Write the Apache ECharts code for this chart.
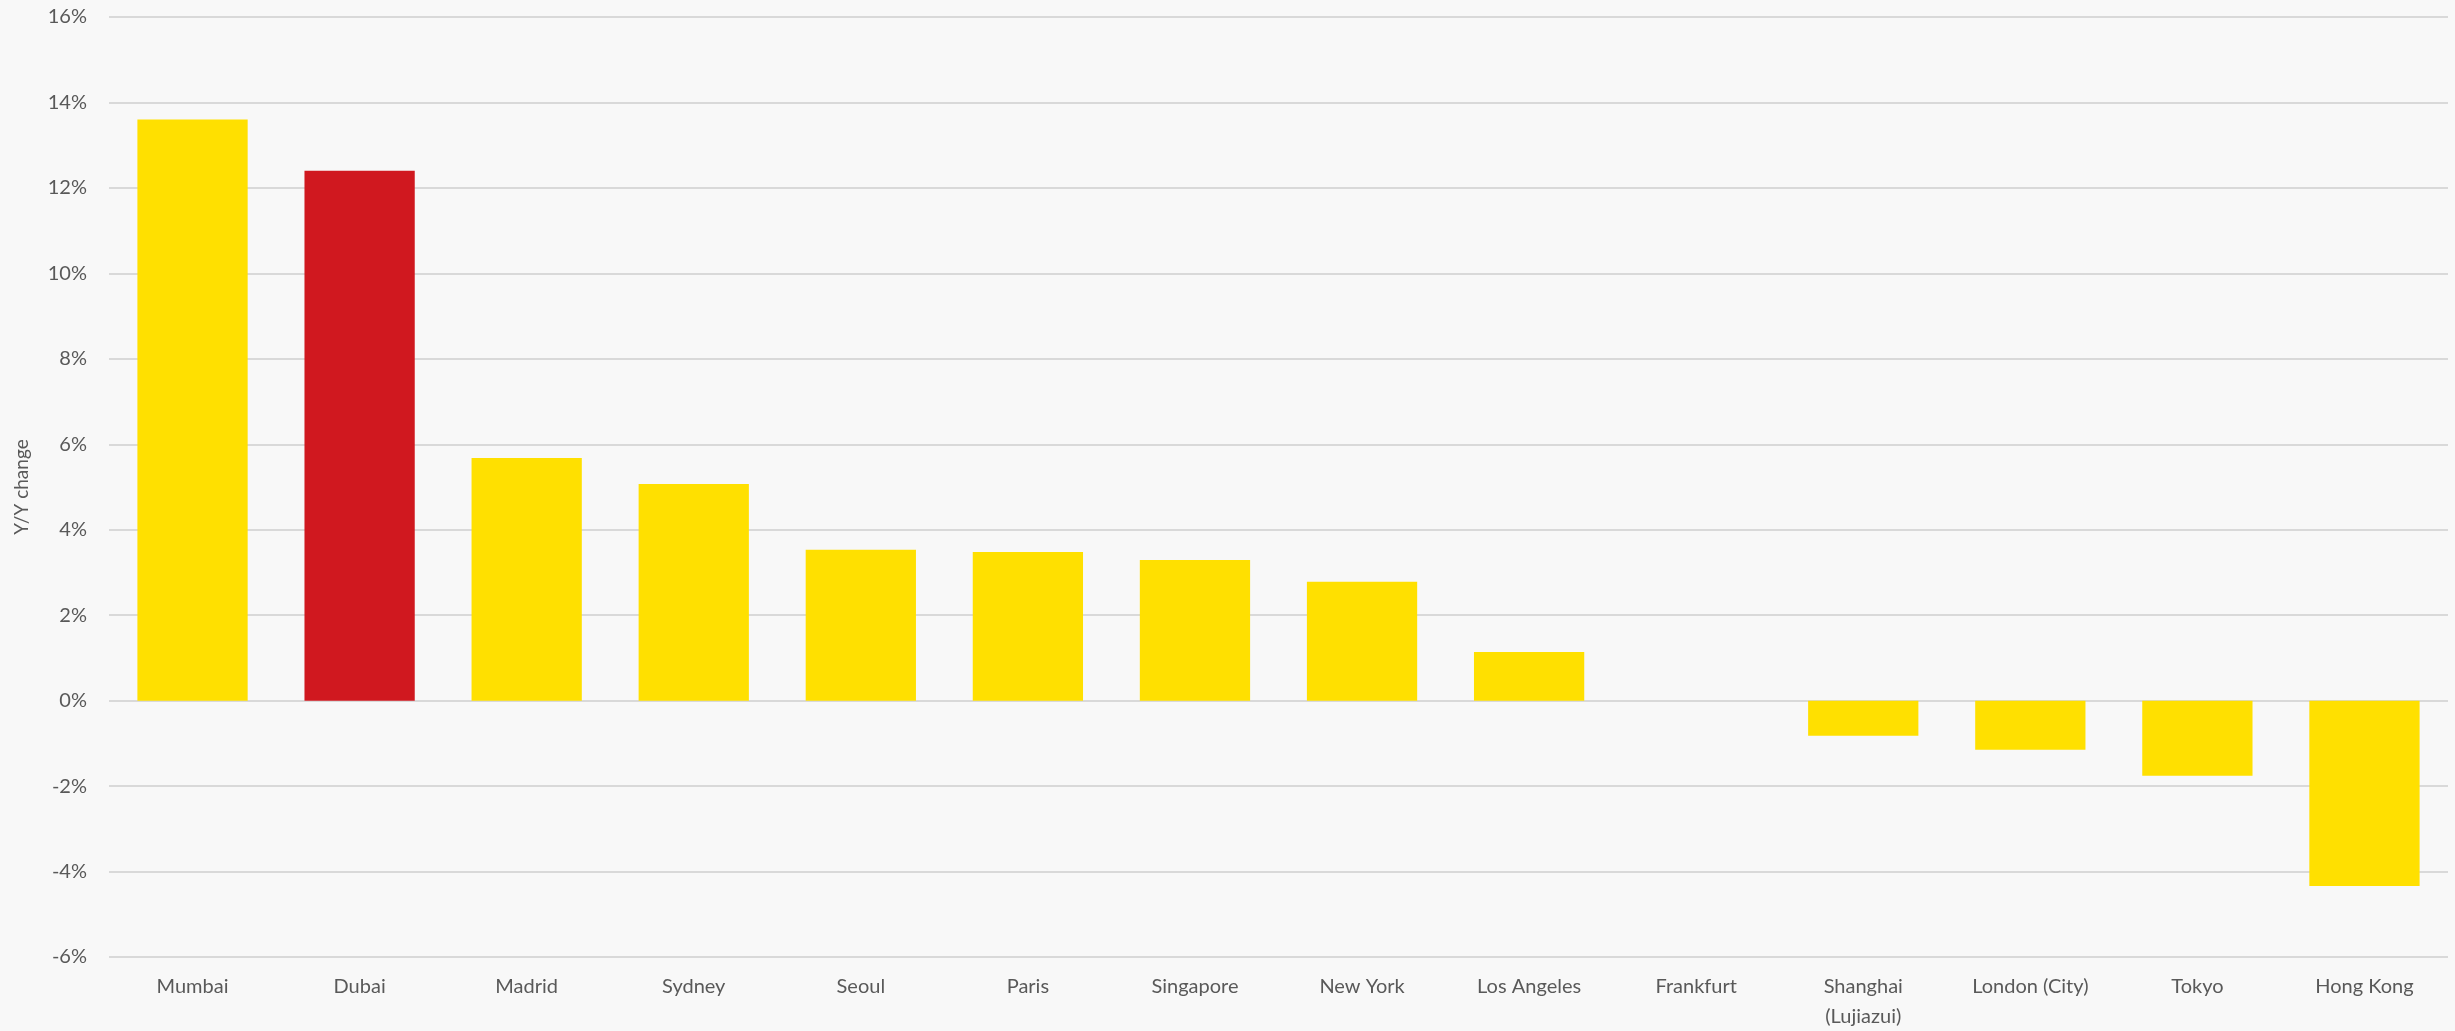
<!DOCTYPE html>
<html>
<head>
<meta charset="utf-8">
<script src="https://cdn.jsdelivr.net/npm/echarts@6/dist/echarts.min.js"></script>
<style>
  html, body { margin: 0; padding: 0; background: #f8f8f8; }
  #chart { width: 2455px; height: 1031px; }
</style>
</head>
<body>
<div id="chart"></div>
<script>
// Office rent growth by city, year-on-year (%)
const cities = ['Mumbai', 'Dubai', 'Madrid', 'Sydney', 'Seoul', 'Paris', 'Singapore',
  'New York', 'Los Angeles', 'Frankfurt', 'Shanghai\n(Lujiazui)', 'London (City)', 'Tokyo', 'Hong Kong'];
const yoyChange = [13.6, 12.4, 5.68, 5.07, 3.53, 3.48, 3.29, 2.78, 1.14, 0, -0.82, -1.15, -1.76, -4.34];
const highlightCity = 'Dubai';

const yMin = -6, yMax = 16, yStep = 2;
const yellow = '#ffe000', red = '#d0181f';
const textColor = '#595959';
const font = 'Lato, "Open Sans", sans-serif';

const chart = echarts.init(document.getElementById('chart'));
chart.setOption({
  backgroundColor: '#f8f8f8',
  animation: false,
  grid: { left: 109, right: 7, top: 17, bottom: 74, containLabel: false, outerBoundsMode: 'none' },
  xAxis: {
    type: 'category',
    data: cities,
    axisLine: { show: false },
    axisTick: { show: false },
    axisLabel: {
      interval: 0, color: textColor, fontFamily: font, fontSize: 20,
      margin: 15, lineHeight: 30
    }
  },
  yAxis: {
    type: 'value',
    min: yMin, max: yMax, interval: yStep,
    name: 'Y/Y change',
    nameLocation: 'middle',
    nameRotate: 90,
    nameGap: 78,
    nameTextStyle: { color: textColor, fontFamily: font, fontSize: 19 },
    axisLine: { show: false },
    axisTick: { show: false },
    axisLabel: {
      color: textColor, fontFamily: font, fontSize: 20, margin: 22,
      formatter: v => v + '%'
    },
    splitLine: { lineStyle: { color: '#d9d9d9', width: 2 } }
  },
  series: [{
    type: 'bar',
    barCategoryGap: '34%',
    data: yoyChange.map((v, i) => ({
      value: v,
      itemStyle: { color: cities[i] === highlightCity ? red : yellow }
    }))
  }]
});
</script>
</body>
</html>
